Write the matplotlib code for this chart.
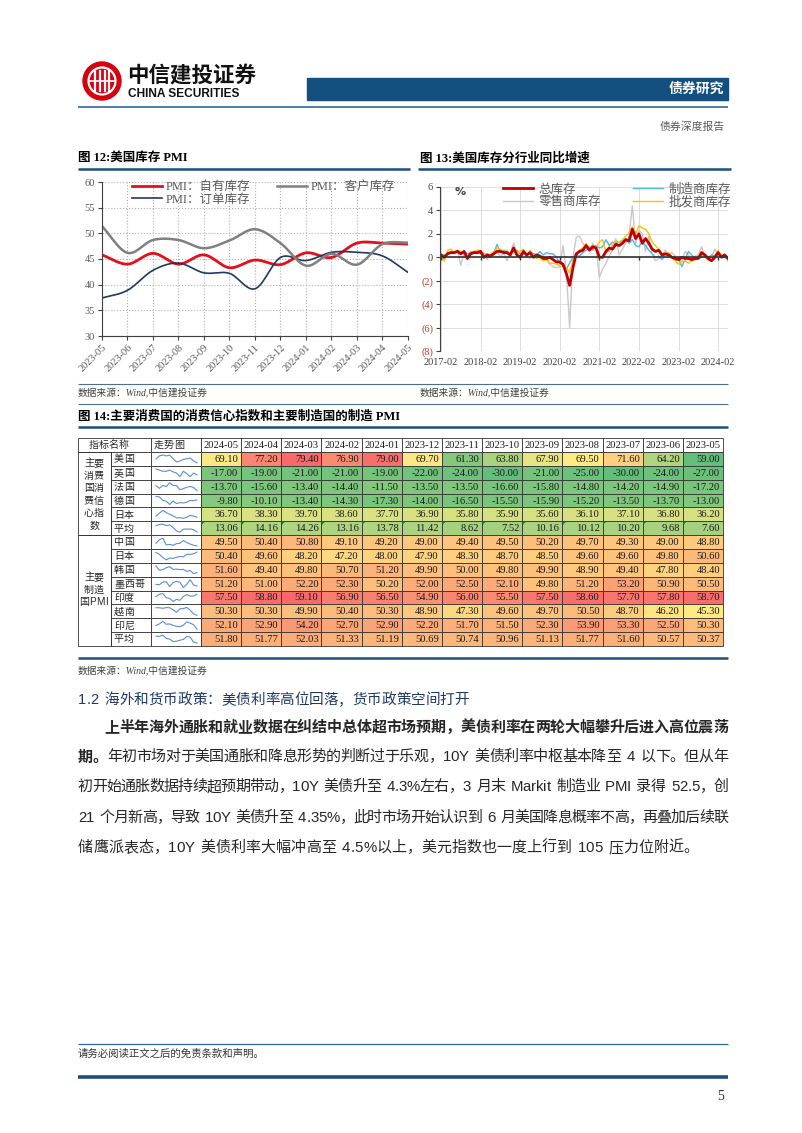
import numpy as np
import matplotlib.pyplot as plt
from matplotlib.patches import Rectangle, Circle, Polygon

SERIF = ['Liberation Serif', 'Noto Sans CJK SC']
CJK = ['Noto Sans CJK SC', 'DejaVu Sans']
plt.rcParams['font.family'] = SERIF

# ---- chart 12: US inventory PMI ----
months12 = ['2023-05', '2023-06', '2023-07', '2023-08', '2023-09', '2023-10', '2023-11',
            '2023-12', '2024-01', '2024-02', '2024-03', '2024-04', '2024-05']
pmi_own = [45.8, 44.0, 46.1, 44.0, 45.8, 43.3, 44.8, 43.9, 46.2, 45.3, 48.1, 48.1, 47.9]
pmi_customer = [51.4, 46.2, 48.7, 48.7, 47.1, 48.6, 50.8, 48.1, 43.7, 46.0, 43.9, 47.9, 48.2]
pmi_order = [37.4, 38.9, 42.8, 44.2, 42.3, 42.2, 39.2, 45.3, 44.7, 46.3, 46.3, 45.6, 42.4]

# ---- chart 13: US inventory yoy by sector, monthly 2017-02 .. 2024-05 ----
year_ticks = ['2017-02', '2018-02', '2019-02', '2020-02', '2021-02', '2022-02', '2023-02', '2024-02']
inv_total = [0.2, 0.0, 0.3, 0.4, 0.4, 0.5, 0.3, 0.5, -0.1, 0.3, 0.4, 0.4,
             0.5, 0.0, 0.2, 0.1, 0.3, 0.5, 0.5, 0.4, 0.4, 0.2, 0.8, 0.2,
             0.0, 0.5, 0.2, 0.4, 0.0, 0.2, 0.1, -0.1, -0.1, 0.0, -0.2, -0.4,
             -0.4, -0.6, -1.4, -2.4, -0.9, 0.3, 0.5, 0.6, 1.0, 0.6, 0.9, 0.8,
             0.0, 0.0, 0.5, 0.8, 0.7, 1.1, 1.0, 1.2, 1.5, 1.4, 2.4, 1.6,
             2.0, 1.2, 1.6, 1.2, 0.7, 0.5, 0.6, 0.2, 0.3, 0.2, 0.0, -0.1,
             -0.2, 0.0, -0.1, -0.1, -0.2, -0.1, -0.1, 0.4, 0.2, -0.1, -0.3, 0.0,
             0.4, 0.0, 0.2, -0.1]
inv_retail = [0.3, -0.2, 0.4, 0.5, 0.3, 0.6, -0.7, 0.4, 0.1, 0.5, 0.4, 0.3,
              0.3, 0.4, -0.2, 0.3, 0.5, 0.4, 0.1, 0.3, -0.3, 0.3, 1.2, 0.3,
              0.0, 0.5, 0.1, -0.1, 0.3, 0.2, 0.0, 0.1, -0.2, -0.6, -0.8, -0.9,
              -0.8, 1.0, -1.2, -6.0, 0.0, 1.7, 1.8, 1.2, 0.8, 0.6, 1.2, 0.8,
              -1.7, -1.0, -0.5, 0.1, 0.6, 1.6, 0.2, 0.7, 1.2, 1.8, 4.4, 1.2,
              2.3, 2.0, 0.5, 1.8, 0.3, -0.3, -0.1, 0.2, 0.6, 0.3, 0.4, 0.1,
              -0.2, -0.3, 0.5, 0.2, -0.3, 0.1, 0.2, 0.9, 0.0, -0.3, 0.1, 0.7,
              0.3, 0.1, 0.0, -0.2]
inv_manuf = [0.1, 0.2, 0.3, 0.4, 0.5, 0.4, 0.3, 0.5, 0.3, 0.4, 0.5, 0.5,
             0.3, 0.1, 0.2, 0.2, 0.4, 1.1, 0.4, 0.6, 0.5, 0.3, 0.5, 0.6,
             0.3, 0.3, 0.2, 0.5, 0.3, 0.2, 0.5, 0.2, 0.4, 0.3, 0.3, 0.0,
             -0.5, -0.6, -1.0, -0.5, 0.0, 0.2, 0.1, 0.4, 0.6, 0.9, 0.6, 1.0,
             0.8, 0.9, 1.5, 1.0, 1.3, 1.2, 1.3, 1.4, 1.6, 1.2, 1.5, 1.0,
             0.9, 1.3, 1.0, 0.6, 0.3, 0.0, 0.1, -0.2, 0.2, 0.3, 0.0, -0.3,
             -0.1, -0.8, -0.2, 0.5, 0.2, -0.1, -0.1, 0.0, 0.1, 0.0, 0.2, 0.1,
             0.3, 0.2, 0.1, 0.0]
inv_wholesale = [0.0, -0.3, 0.6, 0.7, 0.4, 0.6, 0.5, 0.3, -0.2, 0.4, 0.5, 0.6,
                 0.6, 0.3, 0.3, 0.2, 0.4, 0.8, 0.7, 0.3, 0.6, 0.2, 0.6, 0.3,
                 0.5, 0.7, 0.0, 0.6, 0.1, -0.1, 0.0, -0.3, -0.2, -0.5, -0.5, -0.6,
                 -0.7, -0.8, -0.9, -1.3, -0.3, 0.2, 0.6, 0.8, 1.2, 0.7, 1.0, 0.8,
                 1.3, 1.5, 0.5, 0.5, 1.1, 1.4, 1.3, 1.5, 1.8, 2.1, 2.6, 2.0,
                 2.7, 2.5, 2.4, 2.0, 1.3, 1.0, 0.7, 0.3, 0.2, 0.4, 0.0, -0.3,
                 -0.6, -0.4, -0.3, -0.5, -0.3, -0.2, -0.1, 0.2, 0.1, -0.2, -0.3, 0.1,
                 0.6, 0.1, 0.3, -0.3]

# ---- table 14 ----
table_dates = ['2024-05', '2024-04', '2024-03', '2024-02', '2024-01', '2023-12', '2023-11',
               '2023-10', '2023-09', '2023-08', '2023-07', '2023-06', '2023-05']
conf_names = ['美国', '英国', '法国', '德国', '日本', '平均']
conf_values = [
    [69.10, 77.20, 79.40, 76.90, 79.00, 69.70, 61.30, 63.80, 67.90, 69.50, 71.60, 64.20, 59.00],
    [-17.00, -19.00, -21.00, -21.00, -19.00, -22.00, -24.00, -30.00, -21.00, -25.00, -30.00, -24.00, -27.00],
    [-13.70, -15.60, -13.40, -14.40, -11.50, -13.50, -13.50, -16.60, -15.80, -14.80, -14.20, -14.90, -17.20],
    [-9.80, -10.10, -13.40, -14.30, -17.30, -14.00, -16.50, -15.50, -15.90, -15.20, -13.50, -13.70, -13.00],
    [36.70, 38.30, 39.70, 38.60, 37.70, 36.90, 35.80, 35.90, 35.60, 36.10, 37.10, 36.80, 36.20],
    [13.06, 14.16, 14.26, 13.16, 13.78, 11.42, 8.62, 7.52, 10.16, 10.12, 10.20, 9.68, 7.60],
]
pmi_names = ['中国', '日本', '韩国', '墨西哥', '印度', '越南', '印尼', '平均']
pmi_values = [
    [49.50, 50.40, 50.80, 49.10, 49.20, 49.00, 49.40, 49.50, 50.20, 49.70, 49.30, 49.00, 48.80],
    [50.40, 49.60, 48.20, 47.20, 48.00, 47.90, 48.30, 48.70, 48.50, 49.60, 49.60, 49.80, 50.60],
    [51.60, 49.40, 49.80, 50.70, 51.20, 49.90, 50.00, 49.80, 49.90, 48.90, 49.40, 47.80, 48.40],
    [51.20, 51.00, 52.20, 52.30, 50.20, 52.00, 52.50, 52.10, 49.80, 51.20, 53.20, 50.90, 50.50],
    [57.50, 58.80, 59.10, 56.90, 56.50, 54.90, 56.00, 55.50, 57.50, 58.60, 57.70, 57.80, 58.70],
    [50.30, 50.30, 49.90, 50.40, 50.30, 48.90, 47.30, 49.60, 49.70, 50.50, 48.70, 46.20, 45.30],
    [52.10, 52.90, 54.20, 52.70, 52.90, 52.20, 51.70, 51.50, 52.30, 53.90, 53.30, 52.50, 50.30],
    [51.80, 51.77, 52.03, 51.33, 51.19, 50.69, 50.74, 50.96, 51.13, 51.77, 51.60, 50.57, 50.37],
]

heading = '1.2 海外和货币政策：美债利率高位回落，货币政策空间打开'
para_lines = [
    '上半年海外通胀和就业数据在纠结中总体超市场预期，美债利率在两轮大幅攀升后进入高位震荡',
    '期。年初市场对于美国通胀和降息形势的判断过于乐观，10Y 美债利率中枢基本降至 4 以下。但从年',
    '初开始通胀数据持续超预期带动，10Y 美债升至 4.3%左右，3 月末 Markit 制造业 PMI 录得 52.5，创',
    '21 个月新高，导致 10Y 美债升至 4.35%，此时市场开始认识到 6 月美国降息概率不高，再叠加后续联',
    '储鹰派表态，10Y 美债利率大幅冲高至 4.5%以上，美元指数也一度上行到 105 压力位附近。',
]

W, H = 802, 1133
BLUE = '#1f4e79'
fig = plt.figure(figsize=(W / 100, H / 100), dpi=100)
page = fig.add_axes([0, 0, 1, 1])
page.set_xlim(0, W)
page.set_ylim(H, 0)
page.axis('off')


def box(x0, y0, x1, y1):
    return [x0 / W, 1 - y1 / H, (x1 - x0) / W, (y1 - y0) / H]


def hline(y, x0=78, x1=728, lw=0.8, color='#4a6f93'):
    page.plot([x0, x1], [y, y], color=color, lw=lw, solid_capstyle='butt')


# rough advance widths (in em) of ascii glyphs in Liberation Sans
ASCII_W = {' ': 0.4, '.': 0.3, '%': 0.9, 'M': 0.85, 'Y': 0.66, 'P': 0.66, 'I': 0.3,
           'a': 0.55, 'r': 0.36, 'k': 0.5, 'i': 0.24, 't': 0.3}


def put_line(s, x0, y, x1=None, size=10.8, bold_n=0, color='#262626', weight='normal'):
    # CJK full width, ascii by its own width; optionally stretched to fill x0..x1
    units = [1.0 if ord(c) > 255 else ASCII_W.get(c, 0.56) for c in s]
    em = size * 100 / 72
    adv = (x1 - x0) / sum(units) if x1 else em
    x = x0
    for i, (c, u) in enumerate(zip(s, units)):
        w = 'bold' if i < bold_n else weight
        fam = CJK if ord(c) > 255 else ['Liberation Sans', 'DejaVu Sans']
        if c != ' ':
            page.text(x + adv * u / 2, y, c, ha='center', va='center', fontsize=size,
                      fontweight=w, family=fam, color=color)
        x += adv * u


def smooth(y, n=16):
    y = np.asarray(y, float)
    p = np.concatenate([[2 * y[0] - y[1]], y, [2 * y[-1] - y[-2]]])
    t = np.linspace(0, 1, n, endpoint=False)
    xs, ys = [], []
    for i in range(len(y) - 1):
        p0, p1, p2, p3 = p[i:i + 4]
        seg = 0.5 * (2 * p1 + (-p0 + p2) * t + (2 * p0 - 5 * p1 + 4 * p2 - p3) * t ** 2
                     + (-p0 + 3 * p1 - 3 * p2 + p3) * t ** 3)
        xs.append(i + t)
        ys.append(seg)
    xs.append([len(y) - 1])
    ys.append([y[-1]])
    return np.concatenate(xs), np.concatenate(ys)


# ---------------- header ----------------
page.add_patch(Circle((102, 81), 19, color='#d7000f'))
page.add_patch(Circle((102, 81), 13.5, fill=False, ec='white', lw=1.6))
for dx in (-7, -2.5, 2.5, 7):
    page.plot([102 + dx, 102 + dx], [71, 91], color='white', lw=1.6)
page.plot([90, 114], [81, 81], color='white', lw=1.2)
page.text(127, 75, '中信建投证券', fontsize=15.5, fontweight='bold', family=CJK,
          ha='left', va='center', color='#111111')
page.text(128, 94, 'CHINA SECURITIES', fontsize=8.6, fontweight='bold',
          family=['Liberation Sans', 'DejaVu Sans'], ha='left', va='center', color='#111111')
page.add_patch(Rectangle((307, 78), 421, 22, color='#13507f'))
page.text(724, 89, '债券研究', fontsize=10, fontweight='bold', family=CJK, color='white',
          ha='right', va='center')
hline(107, lw=1.2, color='#2e6a9a')
page.text(725, 127, '债券深度报告', fontsize=7.8, family=CJK, color='#595959', ha='right', va='center')

# ---------------- figure titles ----------------
page.text(78, 158, '图 12:美国库存 PMI', fontsize=9, fontweight='bold', ha='left', va='center')
page.text(420, 158, '图 13:美国库存分行业同比增速', fontsize=9, fontweight='bold', ha='left', va='center')
hline(169, 78, 410, lw=1.8, color=BLUE)
hline(169, 418, 731, lw=1.8, color=BLUE)
hline(384, lw=0.8)
page.text(78, 393, '数据来源：Wind,中信建投证券', fontsize=7, style='italic', color='#404040',
          ha='left', va='center')
page.text(420, 393, '数据来源：Wind,中信建投证券', fontsize=7, style='italic', color='#404040',
          ha='left', va='center')
hline(404, lw=0.8)
page.text(78, 417, '图 14:主要消费国的消费信心指数和主要制造国的制造 PMI', fontsize=9,
          fontweight='bold', ha='left', va='center')
hline(427, lw=1.8, color=BLUE)

# ---------------- chart 12 ----------------
ax1 = fig.add_axes(box(102, 182, 408, 336))
x12 = np.arange(len(months12))
for vals, color, lw, label in [(pmi_own, '#e3101c', 2.0, 'PMI：自有库存'),
                               (pmi_order, '#1f3864', 1.2, 'PMI：订单库存'),
                               (pmi_customer, '#808080', 1.8, 'PMI：客户库存')]:
    sx, sy = smooth(vals)
    ax1.plot(sx, sy, color=color, lw=lw, label=label)
ax1.set_xlim(0, 12)
ax1.set_ylim(30, 60)
ax1.set_yticks(range(30, 61, 5))
ax1.set_xticks(x12)
ax1.set_xticklabels(months12, rotation=45, ha='right', rotation_mode='anchor')
ax1.grid(True, ls=':', color='#b0b0b0', lw=0.8)
for s in ('top', 'right'):
    ax1.spines[s].set_visible(False)
for s in ('left', 'bottom'):
    ax1.spines[s].set_color('#404040')
ax1.tick_params(length=3, color='#404040', labelsize=7.5, labelcolor='#595959', pad=2)
ax1.legend(ncol=2, loc='upper left', bbox_to_anchor=(0.06, 1.08), frameon=False,
           prop={'family': SERIF, 'size': 9}, handlelength=2.4, columnspacing=2.2,
           labelspacing=0.05, handletextpad=0.3, labelcolor='#595959')

# ---------------- chart 13 ----------------
ax2 = fig.add_axes(box(440, 187, 728, 351))
x13 = np.arange(len(inv_total))
h_ret, = ax2.plot(x13, inv_retail, color='#c8c8c8', lw=1.0, label='零售商库存')
h_man, = ax2.plot(x13, inv_manuf, color='#4cb8e6', lw=1.0, label='制造商库存')
h_who, = ax2.plot(x13, inv_wholesale, color='#ffc000', lw=1.0, label='批发商库存')
h_tot, = ax2.plot(x13, inv_total, color='#c00000', lw=2.0, label='总库存')
ax2.set_xlim(-0.3, 87)
ax2.set_ylim(-8, 6)
ax2.set_yticks(range(-8, 7, 2))
ax2.set_yticklabels([f'({-v})' if v < 0 else str(v) for v in range(-8, 7, 2)])
for lab, v in zip(ax2.get_yticklabels(), range(-8, 7, 2)):
    lab.set_color('#c0392b' if v < 0 else '#404040')
year_pos = x13[::12]
ax2.set_xticks(year_pos)
ax2.set_xticklabels(year_ticks)
ax2.grid(True, color='#dcdcdc', lw=0.7)
ax2.axhline(0, color='#333333', lw=1.2)
ax2.vlines(year_pos, -0.2, 0, color='#333333', lw=1.0)
for s in ('top', 'right', 'bottom'):
    ax2.spines[s].set_visible(False)
ax2.spines['left'].set_color('#404040')
ax2.tick_params(axis='y', length=3, color='#404040', labelsize=7.5, pad=2)
ax2.tick_params(axis='x', length=0, labelsize=7.5, labelcolor='#404040', pad=5)
ax2.legend(handles=[h_tot, h_ret, h_man, h_who], ncol=2, loc='upper left',
           bbox_to_anchor=(0.18, 1.09), frameon=False, prop={'family': SERIF, 'size': 9},
           handlelength=2.4, columnspacing=2.6, labelspacing=0.05, handletextpad=0.4,
           labelcolor='#595959')
ax2.text(0.07, 0.97, '%', transform=ax2.transAxes, fontsize=8, color='#404040',
         ha='center', va='center', family=['DejaVu Sans'], fontweight='bold')

# ---------------- table 14 ----------------
GREEN, YELLOW, RED = np.array([0x63, 0xBE, 0x7B]), np.array([0xFF, 0xEB, 0x84]), np.array([0xF8, 0x69, 0x6B])
YGREEN = np.array([0xDC, 0xE2, 0x83])


def mix(a, b, t):
    return tuple((a + (b - a) * float(np.clip(t, 0, 1))) / 255)


def conf_color(r, v):
    if r == 0:
        row = conf_values[0]
        lo, mid, hi = min(row), float(np.median(row)), max(row)
        return mix(GREEN, YELLOW, (v - lo) / (mid - lo)) if v <= mid else mix(YELLOW, RED, (v - mid) / (hi - mid))
    allv = np.array(conf_values[1:])
    return mix(GREEN, YGREEN, (v - allv.min()) / (allv.max() - allv.min()))


def pmi_color(v):
    allv = np.array(pmi_values)
    return mix(YELLOW, RED, (v - allv.min()) / (allv.max() - allv.min()))


tx0, tg1, tc1, ts1 = 78, 111, 151, 201
col_w = (723 - ts1) / len(table_dates)
top, head_b = 438, 452
row_h = (646 - head_b) / 14
EC, LW = '#333333', 0.6

# header
page.add_patch(Rectangle((tx0, top), tc1 - tx0, head_b - top, fc='white', ec=EC, lw=LW))
page.add_patch(Rectangle((tc1, top), ts1 - tc1, head_b - top, fc='white', ec=EC, lw=LW))
put_line('指标名称', 89, 445, size=7.2, color='#262626')
for i, d in enumerate(table_dates):
    x = ts1 + i * col_w
    page.add_patch(Rectangle((x, top), col_w, head_b - top, fc='white', ec=EC, lw=LW))
    page.text(x + col_w / 2, 445.5, d, fontsize=7.6, ha='center', va='center', color='#1a1a1a')
put_line('走势图', 154, 445, size=7.2, color='#262626')

rows = [(n, v, 'conf', r) for r, (n, v) in enumerate(zip(conf_names, conf_values))] + \
       [(n, v, 'pmi', r) for r, (n, v) in enumerate(zip(pmi_names, pmi_values))]
for k, (name, vals, grp, r) in enumerate(rows):
    y0 = head_b + k * row_h
    yc = y0 + row_h / 2
    page.add_patch(Rectangle((tg1, y0), tc1 - tg1, row_h, fc='white', ec=EC, lw=LW))
    page.add_patch(Rectangle((tc1, y0), ts1 - tc1, row_h, fc='white', ec=EC, lw=LW))
    put_line(name, 114, yc + 0.3, size=7.2, color='#262626')
    # sparkline in table order
    sv = np.array(vals, float)
    sx = np.linspace(tc1 + 5, ts1 - 4, len(sv))
    rng = sv.max() - sv.min() or 1
    sy = (y0 + row_h - 3) - (sv - sv.min()) / rng * (row_h - 6)
    page.plot(sx, sy, color='#5b8fd0', lw=0.8)
    for i, v in enumerate(vals):
        x = ts1 + i * col_w
        fc = conf_color(r, v) if grp == 'conf' else pmi_color(v)
        page.add_patch(Rectangle((x, y0), col_w, row_h, fc=fc, ec=EC, lw=LW))
        page.text(x + col_w - 3, yc + 0.5, f'{v:.2f}', fontsize=7.6, ha='right', va='center',
                  color='#1a1a1a')
        if grp == 'conf' and name == '平均':
            page.add_patch(Polygon([(x + 0.6, y0 + 0.6), (x + 3.6, y0 + 0.6), (x + 0.6, y0 + 3.6)],
                                   color='#1e8a3c', lw=0))

# merged group cells
g1_b = head_b + len(conf_names) * row_h
g2_b = g1_b + len(pmi_names) * row_h
page.add_patch(Rectangle((tx0, head_b), tg1 - tx0, g1_b - head_b, fc='none', ec=EC, lw=LW))
page.add_patch(Rectangle((tx0, g1_b), tg1 - tx0, g2_b - g1_b, fc='none', ec=EC, lw=LW))
for j, part in enumerate(['主要', '消费', '国消', '费信', '心指', '数']):
    put_line(part, 95 - 5.5 * len(part), 463 + j * 12.6, size=7.2, color='#262626')
for j, part in enumerate(['主要', '制造', '国PMI']):
    units = sum(1.0 if ord(c) > 255 else 0.6 for c in part)
    put_line(part, 95 - 5.5 * units, 577 + j * 12.5, size=7.2, color='#262626')

hline(658, lw=1.8, color=BLUE)
page.text(78, 671, '数据来源：Wind,中信建投证券', fontsize=7, style='italic', color='#404040',
          ha='left', va='center')

# ---------------- text ----------------
put_line(heading, 78, 700, size=10.5, color='#1f3864')
put_line(para_lines[0], 104, 727, x1=728, bold_n=len(para_lines[0]))
put_line(para_lines[1], 78, 757, x1=728, bold_n=2)
put_line(para_lines[2], 78, 787, x1=728)
put_line(para_lines[3], 78, 818, x1=728)
put_line(para_lines[4], 78, 848)

# ---------------- footer ----------------
hline(1044, lw=0.9, color='#2e6a9a')
page.text(78, 1054, '请务必阅读正文之后的免责条款和声明。', fontsize=7.5, family=CJK,
          color='#333333', ha='left', va='center')
hline(1077, lw=2.6, color=BLUE)
page.text(724, 1096, '5', fontsize=10, ha='right', va='center', color='#333333')

fig.savefig('out.png', dpi=100)
